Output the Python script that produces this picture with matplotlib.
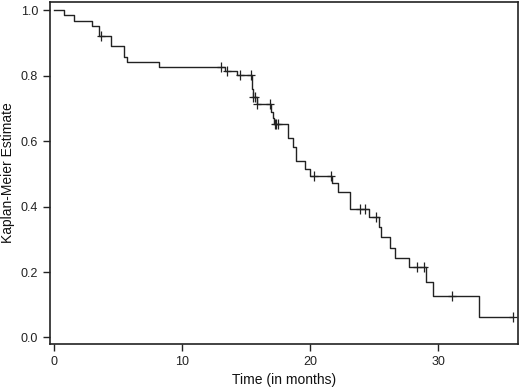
import numpy as np
import matplotlib
matplotlib.use("Agg")
import matplotlib.pyplot as plt

plt.rcParams['font.family'] = ['Liberation Sans', 'DejaVu Sans']

# step times (months) and the estimate after each step
step_times = [0.0, 0.78, 1.5, 2.9, 3.45, 4.4, 5.45, 5.7, 8.2, 13.3, 14.3,
              15.45, 15.55, 15.8, 16.95, 17.05, 17.15, 18.25, 18.65, 18.85,
              19.6, 20.0, 21.7, 22.2, 23.1, 24.6, 25.4, 25.55, 26.2, 26.6,
              27.7, 29.05, 29.55, 33.15]
surv = [1.0, 0.984, 0.968, 0.952, 0.922, 0.890, 0.857, 0.843, 0.826, 0.813,
        0.802, 0.760, 0.735, 0.712, 0.690, 0.670, 0.652, 0.608, 0.582, 0.538,
        0.514, 0.494, 0.471, 0.445, 0.394, 0.367, 0.337, 0.306, 0.274, 0.244,
        0.215, 0.171, 0.128, 0.064]
end_time = 35.8

# censored observations
cens_times = [3.65, 13.05, 13.5, 14.5, 15.4, 15.55, 15.7, 15.85, 16.85,
              17.25, 17.35, 17.45, 20.3, 21.6, 23.85, 24.3, 25.1, 28.3, 28.9,
              31.1, 35.8]

t = np.array(step_times + [end_time])
s = np.array(surv + [surv[-1]])

fig = plt.figure(figsize=(5.2, 3.87), dpi=100)
ax = fig.add_axes([0.096, 0.111, 0.8995, 0.884])

ax.step(t, s, where='post', color='#222222', lw=1.0)

# censor marks sit on the curve level at that time
idx = np.searchsorted(np.array(step_times), cens_times, side='right') - 1
cens_s = np.array(surv)[idx]
ax.plot(cens_times, cens_s, ls='none', marker='|', ms=7, mew=0.9, color='#222222')
ax.plot(cens_times, cens_s, ls='none', marker='_', ms=6, mew=0.9, color='#222222')

ax.set_xlim(-0.35, 36.2)
ax.set_ylim(-0.02, 1.025)
ax.set_xticks([0, 10, 20, 30])
ax.set_yticks([0.0, 0.2, 0.4, 0.6, 0.8, 1.0])
ax.yaxis.set_major_formatter(matplotlib.ticker.FormatStrFormatter('%.1f'))
ax.tick_params(direction='out', length=5, width=1.0, labelsize=9, colors='#222222')
for sp in ax.spines.values():
    sp.set_linewidth(1.2)
    sp.set_color('#222222')

ax.set_xlabel('Time (in months)', fontsize=10, color='#111111')
ax.set_ylabel('Kaplan-Meier Estimate', fontsize=10, color='#111111')

fig.savefig('out.png', dpi=100)
